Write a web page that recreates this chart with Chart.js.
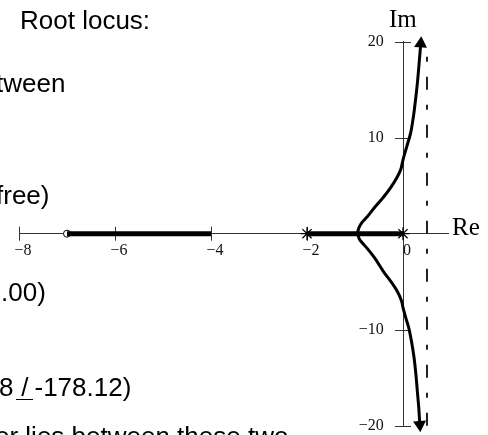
<!DOCTYPE html>
<html><head><meta charset="utf-8">
<script src="https://cdn.jsdelivr.net/npm/chart.js@4.4.1/dist/chart.umd.min.js"></script>
<style>
html,body{margin:0;padding:0;background:#fff;}
#wrap{position:relative;width:488px;height:435px;overflow:hidden;background:#fff;}
canvas{position:absolute;left:0;top:0;}
.t{position:absolute;font-family:"Liberation Sans",Arial,sans-serif;font-size:26px;line-height:26px;color:#000;white-space:nowrap;}
.ax{position:absolute;font-family:"Liberation Serif","Times New Roman",serif;font-size:25px;line-height:25px;color:#000;white-space:nowrap;}
.ang{display:inline-block;width:17px;text-align:center;border-bottom:1.5px solid #000;line-height:23px;margin-left:3px;margin-right:1px;}
</style></head>
<body>
<div id="wrap">
<canvas id="c" width="488" height="435"></canvas>
<div class="t" style="left:20px;top:7px">Root locus:</div>
<div class="t" style="left:-4px;top:70px">tween</div>
<div class="t" style="left:-4px;top:182px">free)</div>
<div class="t" style="left:1px;top:279px">.00)</div>
<div class="t" style="left:-1px;top:374px">8<span class="ang">/</span>-178.12)</div>
<div class="t" style="left:-5px;top:423px">er lies between these two</div>
<div class="ax" style="left:389px;top:6px">Im</div>
<div class="ax" style="left:452px;top:214px">Re</div>
</div>
<script>
// ---- data ----
const xTicks = [-8, -6, -4, -2, 0];
const xTickLabels = ['\u22128', '\u22126', '\u22124', '\u22122', '0'];
const yTicks = [-20, -10, 10, 20];
const yTickLabels = ['\u221220', '\u221210', '10', '20'];
const xRange = [-8, 0.95];
const yRange = [-20, 20];

// root locus segments on the real axis
const realSegA = [-7, -4];
const realSegB = [-2, 0];
// open-loop poles (x) and zero (o)
const poleRe = [-2, 0];
const zeroRe = [-7];
// asymptote
const asymptoteRe = [0.5, 0.5];
const asymptoteIm = [-20, 20];

// complex branches
const upperRe = [-0.95, -0.92, -0.85, -0.74, -0.58, -0.40, -0.25, -0.12, -0.04, 0.00, 0.08, 0.16, 0.22, 0.26, 0.30, 0.33, 0.37];
const upperIm = [0, 0.6, 1.2, 1.8, 2.8, 3.85, 4.85, 5.9, 6.8, 7.7, 9.1, 10.5, 12.3, 13.9, 15.7, 17.4, 19.8];
const lowerRe = [-0.95, -0.90, -0.75, -0.58, -0.40, -0.25, -0.12, -0.03, 0.00, 0.06, 0.12, 0.18, 0.23, 0.27, 0.30, 0.33, 0.35];
const lowerIm = [0, -0.65, -1.5, -2.6, -4.0, -5.0, -6.0, -7.0, -7.7, -8.8, -9.8, -11.3, -12.9, -14.7, -16.5, -18.2, -19.9];

const pts = (xs, ys) => xs.map((x, i) => ({x, y: ys[i]}));
const onAxis = xs => xs.map(x => ({x, y: 0}));

const tickMarks = {
  id: 'tickMarks',
  beforeDatasetsDraw(chart) {
    const {ctx, scales: {x, y}} = chart;
    const y0 = y.getPixelForValue(0), x0 = x.getPixelForValue(0);
    ctx.save();
    ctx.strokeStyle = '#333';
    ctx.lineWidth = 1;
    ctx.beginPath();
    xTicks.forEach(v => {
      const px = Math.round(x.getPixelForValue(v)) + 0.5;
      ctx.moveTo(px, y0 - 7); ctx.lineTo(px, y0 + 7);
    });
    yTicks.forEach(v => {
      const py = Math.round(y.getPixelForValue(v)) + 0.5;
      ctx.moveTo(x0 - 8, py); ctx.lineTo(x0 + 8, py);
    });
    ctx.stroke();
    ctx.restore();
  }
};

const lastIdx = upperRe.length - 1;
const lastIdxL = lowerRe.length - 1;
const tickFont = {family: '"Liberation Serif", "Times New Roman", serif', size: 16};

new Chart(document.getElementById('c'), {
  type: 'scatter',
  data: {
    datasets: [
      {data: pts(asymptoteRe, asymptoteIm), showLine: true, borderColor: '#222', borderWidth: 2,
       borderDash: [13, 15, 5, 15], pointRadius: 0, clip: false},
      {data: onAxis(realSegA), showLine: true, borderColor: '#000', borderWidth: 5, pointRadius: 0, clip: false},
      {data: onAxis(realSegB), showLine: true, borderColor: '#000', borderWidth: 5, pointRadius: 0, clip: false},
      {data: pts(upperRe, upperIm), showLine: true, borderColor: '#000', borderWidth: 3, tension: 0.2,
       pointRadius: c => c.dataIndex === lastIdx ? 4.5 : 0, pointStyle: 'triangle', pointRotation: 4,
       pointBackgroundColor: '#000', pointBorderColor: '#000', clip: false},
      {data: pts(lowerRe, lowerIm), showLine: true, borderColor: '#000', borderWidth: 3, tension: 0.2,
       pointRadius: c => c.dataIndex === lastIdxL ? 4.5 : 0, pointStyle: 'triangle', pointRotation: 176,
       pointBackgroundColor: '#000', pointBorderColor: '#000', clip: false},
      {data: onAxis(poleRe), showLine: false, pointStyle: 'star', pointRadius: 6.5, borderWidth: 1.3,
       pointBorderColor: '#000', pointBackgroundColor: '#000', clip: false},
      {data: onAxis(zeroRe), showLine: false, pointStyle: 'circle', pointRadius: 3.5, borderWidth: 1,
       pointBorderColor: '#000', pointBackgroundColor: '#fff', clip: false}
    ]
  },
  options: {
    responsive: false,
    animation: false,
    events: [],
    layout: {padding: {left: 19, right: 39.4, top: 41.7, bottom: 9.3}},
    plugins: {legend: {display: false}, tooltip: {enabled: false}},
    scales: {
      x: {
        type: 'linear', min: xRange[0], max: xRange[1], position: {y: 0},
        afterBuildTicks: s => { s.ticks = xTicks.map(v => ({value: v})); },
        afterFit: s => { s.height = 0; s.paddingTop = 0; s.paddingBottom = 0; },
        ticks: {
          callback: v => { const i = xTicks.indexOf(v); return i >= 0 ? xTickLabels[i] : ''; },
          font: tickFont, color: '#111', padding: 7, labelOffset: 4, autoSkip: false, maxRotation: 0
        },
        grid: {drawOnChartArea: false, drawTicks: false},
        border: {display: true, color: '#333', width: 1}
      },
      y: {
        type: 'linear', min: yRange[0], max: yRange[1], position: {x: 0},
        afterBuildTicks: s => { s.ticks = yTicks.map(v => ({value: v})); },
        afterFit: s => { s.width = 0; s.paddingTop = 0; s.paddingBottom = 0; },
        ticks: {
          // trailing em + thin space keeps the labels clear of the axis line
          callback: v => { const i = yTicks.indexOf(v); return i >= 0 ? yTickLabels[i] + '\u2003\u2009' : ''; },
          font: tickFont, color: '#111', padding: 0, autoSkip: false
        },
        grid: {drawOnChartArea: false, drawTicks: false},
        border: {display: true, color: '#333', width: 1}
      }
    }
  },
  plugins: [tickMarks]
});
</script>
</body></html>
